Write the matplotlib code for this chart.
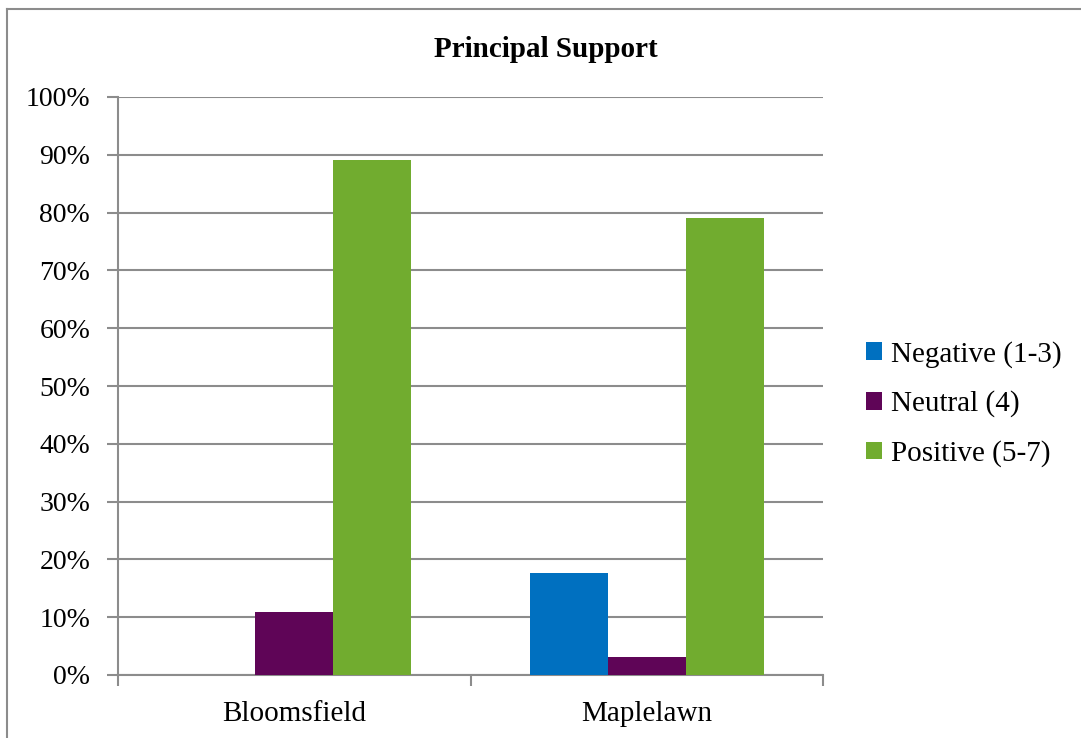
import matplotlib.pyplot as plt
import numpy as np
from matplotlib.lines import Line2D
from matplotlib.ticker import FixedLocator, NullFormatter

plt.rcParams['font.family'] = ['Liberation Serif', 'DejaVu Serif']

schools = ['Bloomsfield', 'Maplelawn']
series = ['Negative (1-3)', 'Neutral (4)', 'Positive (5-7)']
negative = [0.0, 17.6]
neutral = [10.9, 3.1]
positive = [89.1, 79.0]
colors = ['#0070C0', '#5F0557', '#71AC2F']

fig = plt.figure(figsize=(10.81, 7.38), dpi=100)
ax = fig.add_axes([118 / 1081, 1 - 675 / 738, 705 / 1081, 578 / 738])

x = np.arange(len(schools))
w = 78 / 352
for i, (vals, name, c) in enumerate(zip([negative, neutral, positive], series, colors)):
    ax.bar(x + (i - 1) * w, vals, width=w, color=c, label=name, zorder=3)

ax.set_xlim(-0.5, 1.5)
ax.set_ylim(0, 100)
ax.set_yticks(np.arange(0, 101, 10))
ax.set_yticklabels([f'{v}%' for v in range(0, 101, 10)], fontsize=20)
ax.yaxis.grid(True, color='#8c8c8c', linewidth=1.5, zorder=0)

# category ticks between groups, labels centred under them
ax.xaxis.set_major_locator(FixedLocator([-0.5, 0.5, 1.5]))
ax.xaxis.set_major_formatter(NullFormatter())
ax.xaxis.set_minor_locator(FixedLocator(x))
ax.set_xticklabels(schools, minor=True, fontsize=21)
ax.tick_params(axis='x', which='minor', length=0, pad=19)
ax.tick_params(axis='x', which='major', length=8, color='#8c8c8c', width=1.5)
ax.tick_params(axis='y', length=8, color='#8c8c8c', width=1.5, pad=12)

for s in ['top', 'right']:
    ax.spines[s].set_visible(False)
for s in ['left', 'bottom']:
    ax.spines[s].set_color('#8c8c8c')
    ax.spines[s].set_linewidth(1.5)

ax.set_title('Principal Support', fontsize=21, fontweight='bold', pad=29,
             x=(546 - 118) / 705)

ax.legend(loc='center left', bbox_to_anchor=(1.045, 0.469), frameon=False,
          fontsize=21, handlelength=0.55, handleheight=0.55, handletextpad=0.3,
          labelspacing=0.78, borderaxespad=0)

# outer chart border (left and top edges visible)
fig.add_artist(Line2D([7 / 1081, 7 / 1081], [0, 1 - 9 / 738], transform=fig.transFigure,
                      color='#8c8c8c', linewidth=1.5))
fig.add_artist(Line2D([7 / 1081, 1], [1 - 9 / 738, 1 - 9 / 738], transform=fig.transFigure,
                      color='#8c8c8c', linewidth=1.5))

fig.savefig('out.png', dpi=100)
